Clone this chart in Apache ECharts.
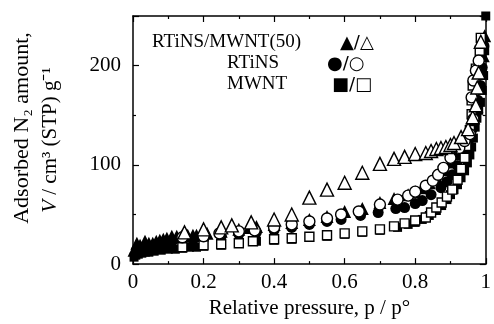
<!DOCTYPE html>
<html>
<head>
<meta charset="utf-8">
<script src="https://cdn.jsdelivr.net/npm/echarts@6/dist/echarts.min.js"></script>
<style>
  html, body { margin: 0; padding: 0; background: #fff; }
  #main { width: 494px; height: 324px; }
</style>
</head>
<body>
<div id="main"></div>
<script>
// RTiNS/MWNT(50): adsorption (filled triangle) / desorption (open triangle)
var tiMwAdsP = [0.003, 0.011, 0.02, 0.034, 0.045, 0.056, 0.066, 0.076, 0.086, 0.096, 0.11, 0.124, 0.14, 0.155, 0.17, 0.18, 0.195, 0.21,
    0.25, 0.3, 0.33, 0.35, 0.4, 0.45, 0.5, 0.55, 0.6, 0.65, 0.7, 0.74, 0.78, 0.8, 0.82, 0.84, 0.86, 0.88, 0.9, 0.915, 0.93, 0.945,
    0.955, 0.965, 0.975, 0.982, 0.988, 0.993, 0.997];
var tiMwAdsV = [14, 21, 19, 23, 21, 21, 23, 24, 25, 26, 28, 28, 29, 29, 29, 29, 30, 31,
    33, 35, 37, 38, 40, 42, 45, 48, 53, 56, 62, 66, 70, 73, 77, 82, 88, 95, 103, 111, 120, 130,
    140, 152, 165, 178, 192, 210, 230];
var tiMwDesP = [0.146, 0.2, 0.25, 0.28, 0.335, 0.4, 0.45, 0.5, 0.55, 0.6, 0.65, 0.7, 0.74, 0.77, 0.8, 0.83, 0.845, 0.86, 0.873,
    0.887, 0.9, 0.91, 0.93, 0.95, 0.963, 0.972, 0.976, 0.98, 0.986];
var tiMwDesV = [32, 35, 37, 39, 42, 45, 50, 67, 75, 82, 92, 101, 106, 108, 111, 112, 114, 116, 117,
    118, 120, 122, 128, 136, 148, 160, 178, 193, 224];

// RTiNS: adsorption (filled circle) / desorption (open circle)
var tiAdsP = [0.01, 0.03, 0.05, 0.08, 0.11, 0.14, 0.17, 0.2, 0.25, 0.3, 0.35, 0.4, 0.45, 0.5, 0.55, 0.59, 0.645, 0.695, 0.745,
    0.77, 0.8, 0.82, 0.845, 0.873, 0.89, 0.905, 0.92, 0.935, 0.95, 0.96, 0.97, 0.978, 0.985, 0.99, 0.995];
var tiAdsV = [14, 17, 18, 20, 22, 23, 24, 25, 28, 30, 32, 34, 37, 40, 43, 45, 49, 52, 56,
    57, 61, 64, 70, 77, 83, 90, 99, 110, 122, 135, 150, 165, 180, 198, 220];
var tiDesP = [0.14, 0.2, 0.245, 0.3, 0.345, 0.4, 0.45, 0.5, 0.55, 0.59, 0.64, 0.7, 0.75, 0.78, 0.8, 0.83, 0.85, 0.865, 0.88,
    0.9, 0.925, 0.94, 0.955, 0.965, 0.96, 0.965, 0.972, 0.98];
var tiDesV = [27, 28, 31, 33, 34, 37, 40, 43, 46, 50, 53, 60, 65, 69, 73, 79, 84, 90, 97,
    107, 117, 124, 131, 146, 168, 185, 195, 205];

// MWNT: adsorption (filled square) / desorption (open square)
var mwAdsP = [0.003, 0.008, 0.015, 0.025, 0.035, 0.045, 0.06, 0.08, 0.1, 0.12, 0.14, 0.16, 0.18, 0.2,
    0.25, 0.3, 0.35, 0.4, 0.45, 0.5, 0.55, 0.6, 0.65, 0.7, 0.75,
    0.78, 0.8, 0.82, 0.84, 0.86, 0.875, 0.89, 0.9, 0.91, 0.92, 0.93, 0.94, 0.948, 0.955, 0.96, 0.965,
    0.97, 0.975, 0.98, 0.985, 0.99, 0.994, 0.997, 1.0];
var mwAdsV = [7, 9, 10, 11, 12, 12, 13, 14, 15, 15, 16, 17, 17, 18,
    19, 21, 23, 24, 25, 27, 28, 30, 32, 34, 37,
    40, 42, 45, 49, 54, 59, 65, 70, 75, 80, 87, 94, 102, 110, 118, 127,
    138, 147, 155, 163, 175, 190, 215, 250];
var mwDesP = [0.14, 0.2, 0.25, 0.3, 0.34, 0.4, 0.45, 0.5, 0.55, 0.6, 0.65, 0.7, 0.74, 0.77, 0.8, 0.83, 0.845, 0.86, 0.875,
    0.89, 0.905, 0.92, 0.93, 0.94, 0.945, 0.955, 0.96, 0.96, 0.963, 0.972, 0.983, 0.986];
var mwDesV = [17, 19, 20, 21, 23, 25, 26, 27.5, 29, 31, 33, 35, 38, 41, 44, 47, 52, 57, 62,
    68, 75, 85, 96, 107, 119, 135, 151, 165, 180, 197, 215, 228];

var xTickLabels = ['0', '0.2', '0.4', '0.6', '0.8', '1'];

function pairs(p, v) {
    return p.map(function (x, i) { return [x, v[i]]; });
}

var serif = 'Liberation Serif';
var black = '#000';

var chart = echarts.init(document.getElementById('main'));

function xAxisCfg(pos, showLabel) {
    return {
        type: 'value', position: pos, min: 0, max: 1, interval: 0.2,
        axisLine: { show: true, onZero: false, lineStyle: { color: black, width: 1.5 } },
        axisTick: { show: true, inside: true, length: 6, lineStyle: { color: black, width: 1.2 } },
        minorTick: { show: true, splitNumber: 2, length: 3, lineStyle: { color: black, width: 1.2 } },
        splitLine: { show: false },
        axisLabel: {
            show: showLabel, color: black, fontFamily: serif, fontSize: 21, margin: 8,
            formatter: function (v) { return xTickLabels[Math.round(v / 0.2)]; }
        },
        name: showLabel ? 'Relative pressure, p / p°' : '',
        nameLocation: 'middle', nameGap: 30,
        nameTextStyle: { color: black, fontFamily: serif, fontSize: 21 }
    };
}

function yAxisCfg(pos, showLabel) {
    return {
        type: 'value', position: pos, min: 0, max: 250, interval: 100,
        axisLine: { show: true, onZero: false, lineStyle: { color: black, width: 1.5 } },
        axisTick: { show: true, inside: true, length: 6, lineStyle: { color: black, width: 1.2 } },
        minorTick: { show: true, splitNumber: 2, length: 3, lineStyle: { color: black, width: 1.2 } },
        splitLine: { show: false },
        axisLabel: { show: showLabel, color: black, fontFamily: serif, fontSize: 21, margin: 12, showMaxLabel: false }
    };
}

var filled = { color: black, opacity: 1 };
var open = { color: '#fff', borderColor: black, borderWidth: 1.4, opacity: 1 };

function sc(name, data, symbol, size, style) {
    return {
        name: name, type: 'scatter', data: data, symbol: symbol, symbolSize: size,
        itemStyle: style, xAxisIndex: 0, yAxisIndex: 0
    };
}

var option = {
    animation: false,
    backgroundColor: '#fff',
    grid: { left: 133, right: 6, top: 16, bottom: 53 },
    xAxis: [xAxisCfg('bottom', true), xAxisCfg('top', false)],
    yAxis: [yAxisCfg('left', true), yAxisCfg('right', false)],
    series: [
        sc('MWNT ads', pairs(mwAdsP, mwAdsV), 'rect', 9, filled),
        sc('RTiNS ads', pairs(tiAdsP, tiAdsV), 'circle', 11, filled),
        sc('RTiNS/MWNT(50) ads', pairs(tiMwAdsP, tiMwAdsV), 'triangle', 13, filled),
        sc('MWNT des', pairs(mwDesP, mwDesV), 'rect', 9, open),
        sc('RTiNS des', pairs(tiDesP, tiDesV), 'circle', 11, open),
        sc('RTiNS/MWNT(50) des', pairs(tiMwDesP, tiMwDesV), 'triangle', 13, open)
    ],
    graphic: [
        // y axis title, two rotated lines
        {
            type: 'text', x: 22, y: 128, rotation: Math.PI / 2,
            style: { text: 'Adsorbed N₂ amount,', font: '22px "Liberation Serif"', fill: black, align: 'center', verticalAlign: 'middle' }
        },
        {
            type: 'text', x: 50, y: 140, rotation: Math.PI / 2,
            style: {
                text: '{i|V} / cm³ (STP) g⁻¹', font: '21px "Liberation Serif"', fill: black,
                align: 'center', verticalAlign: 'middle',
                rich: { i: { fontStyle: 'italic', fontFamily: serif, fontSize: 21 } }
            }
        },
        // legend
        { type: 'text', left: 152, top: 33, style: { text: 'RTiNS/MWNT(50)', font: '19px "Liberation Serif"', fill: black } },
        { type: 'text', left: 227, top: 54, style: { text: 'RTiNS', font: '19px "Liberation Serif"', fill: black } },
        { type: 'text', left: 227, top: 75, style: { text: 'MWNT', font: '19px "Liberation Serif"', fill: black } },
        { type: 'text', left: 340, top: 34, style: { text: '▲/△', font: '18px "DejaVu Sans"', fill: black } },
        { type: 'text', left: 327, top: 55, style: { text: '●/○', font: '18px "DejaVu Sans"', fill: black } },
        { type: 'text', left: 332, top: 76, style: { text: '■/□', font: '18px "DejaVu Sans"', fill: black } }
    ]
};

chart.setOption(option);
</script>
</body>
</html>
